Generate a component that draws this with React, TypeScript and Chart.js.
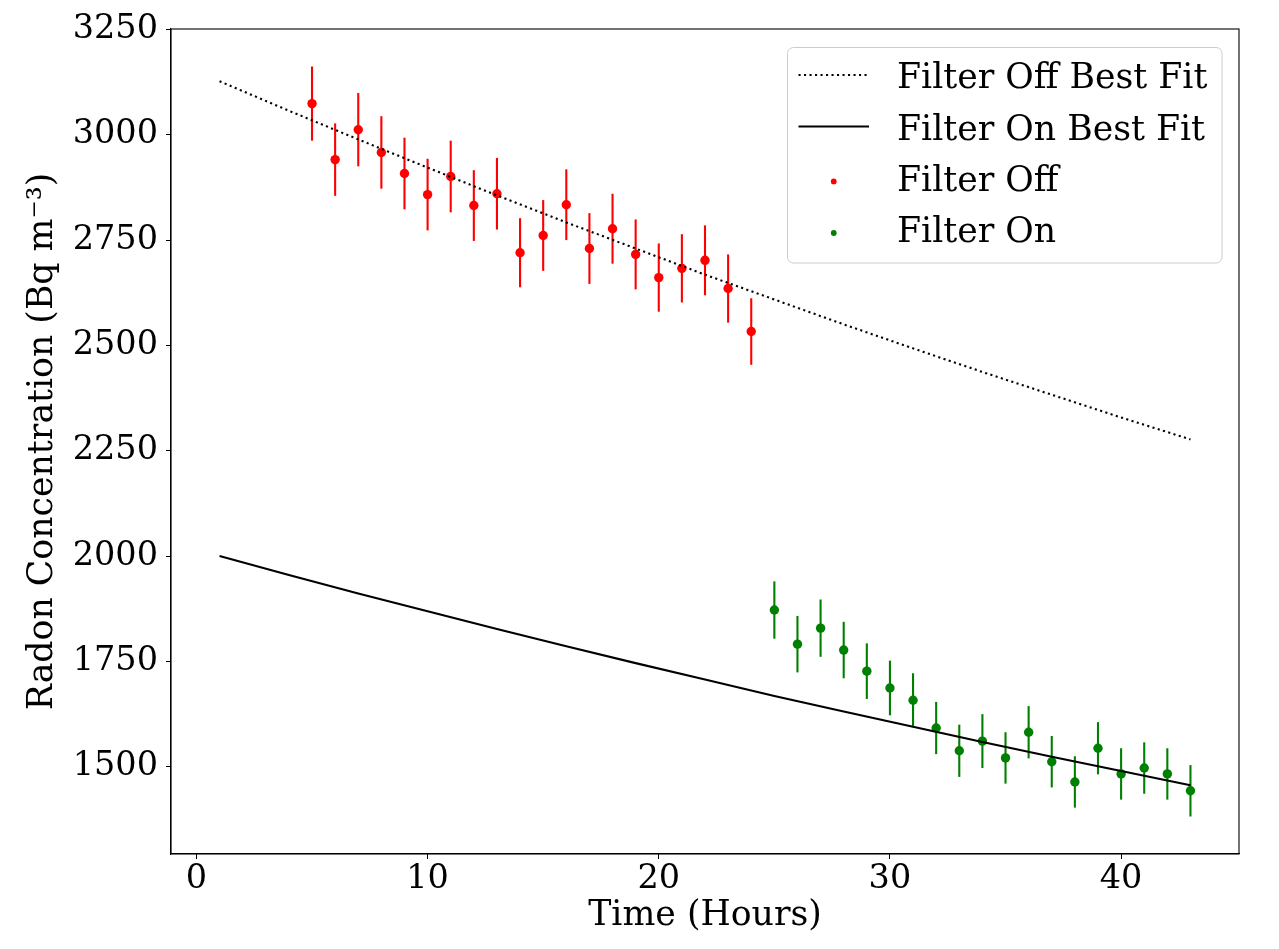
import React, { useEffect, useRef } from 'react';
import { Chart, registerables } from 'chart.js';

Chart.register(...registerables);

// ---- data ----
const hoursOff = [5, 6, 7, 8, 9, 10, 11, 12, 13, 14, 15, 16, 17, 18, 19, 20, 21, 22, 23, 24];
const filterOff = [3074, 2941, 3012, 2958, 2908, 2858, 2901, 2832, 2860, 2720, 2761, 2834, 2730, 2777, 2716, 2661, 2683, 2702, 2635, 2533];
const errOff = [88, 86, 87, 86, 85, 85, 85, 84, 85, 82, 84, 84, 84, 83, 83, 81, 81, 83, 81, 79];

const hoursOn = [25, 26, 27, 28, 29, 30, 31, 32, 33, 34, 35, 36, 37, 38, 39, 40, 41, 42, 43];
const filterOn = [1872, 1791, 1829, 1777, 1727, 1687, 1658, 1592, 1538, 1561, 1521, 1582, 1512, 1464, 1544, 1483, 1497, 1483, 1443];
const errOn = [68, 67, 68, 67, 66, 65, 64, 62, 62, 64, 61, 62, 61, 61, 62, 61, 61, 61, 61];

const fitHours = [1, 4, 7, 10, 13, 16, 19, 22, 25, 28, 31, 34, 37, 40, 43];
const fitOff = [3127, 3057, 2989, 2922, 2856, 2792, 2730, 2668, 2609, 2550, 2493, 2437, 2383, 2329, 2277];
const fitOn = [2000, 1955, 1911, 1869, 1827, 1786, 1746, 1707, 1668, 1631, 1595, 1559, 1524, 1490, 1456];

const xTicks = [0, 10, 20, 30, 40];
const yTicks = [1500, 1750, 2000, 2250, 2500, 2750, 3000, 3250];

const legendLabels = ['Filter Off Best Fit', 'Filter On Best Fit', 'Filter Off', 'Filter On'];

const FONT = "'DejaVu Serif', serif";
const FS = 34.7;
const TICK_FS = 33.5;

const toPoints = (xs: number[], ys: number[]) => xs.map((x, i) => ({ x, y: ys[i] }));

const errorBarPlugin = {
  id: 'errorBars',
  beforeDatasetDraw(chart: any, args: any) {
    const ds = chart.data.datasets[args.index];
    if (!ds.errors) return;
    const ctx = chart.ctx;
    const xs = chart.scales.x;
    const ys = chart.scales.y;
    ctx.save();
    ctx.strokeStyle = ds.backgroundColor;
    ctx.lineWidth = 2.1;
    ds.data.forEach((p: any, i: number) => {
      const e = ds.errors[i];
      const px = xs.getPixelForValue(p.x);
      ctx.beginPath();
      ctx.moveTo(px, ys.getPixelForValue(p.y - e));
      ctx.lineTo(px, ys.getPixelForValue(p.y + e));
      ctx.stroke();
    });
    ctx.restore();
  },
};

const framePlugin = {
  id: 'frame',
  afterDatasetsDraw(chart: any) {
    const { ctx, chartArea } = chart;
    ctx.save();
    ctx.strokeStyle = '#000';
    ctx.lineWidth = 1.1;
    ctx.strokeRect(chartArea.left, chartArea.top, chartArea.right - chartArea.left, chartArea.bottom - chartArea.top);
    ctx.restore();
  },
};

const legendPlugin = {
  id: 'customLegend',
  afterDraw(chart: any) {
    const ctx = chart.ctx;
    ctx.save();
    const x0 = 787.5, y0 = 47.5, w = 434.5, h = 215.5;
    ctx.beginPath();
    (ctx as any).roundRect(x0, y0, w, h, 6);
    ctx.fillStyle = 'rgba(255,255,255,0.8)';
    ctx.fill();
    ctx.strokeStyle = '#cccccc';
    ctx.lineWidth = 1;
    ctx.stroke();
    const baselines = [88.3, 139.6, 190.9, 242.2];
    const hx0 = 798.5, hx1 = 869, tx = 897;
    // dotted handle
    ctx.strokeStyle = '#000';
    ctx.lineWidth = 2.1;
    ctx.setLineDash([2.1, 3.4]);
    ctx.beginPath();
    ctx.moveTo(hx0, baselines[0] - 13.3);
    ctx.lineTo(hx1, baselines[0] - 13.3);
    ctx.stroke();
    ctx.setLineDash([]);
    ctx.beginPath();
    ctx.moveTo(hx0, baselines[1] - 13.1);
    ctx.lineTo(hx1, baselines[1] - 13.1);
    ctx.stroke();
    ctx.fillStyle = '#ff0000';
    ctx.beginPath();
    ctx.arc((hx0 + hx1) / 2, baselines[2] - 9.5, 2.9, 0, Math.PI * 2);
    ctx.fill();
    ctx.fillStyle = '#008000';
    ctx.beginPath();
    ctx.arc((hx0 + hx1) / 2, baselines[3] - 9.2, 2.9, 0, Math.PI * 2);
    ctx.fill();
    ctx.fillStyle = '#000';
    ctx.font = `${FS}px ${FONT}`;
    ctx.textBaseline = 'alphabetic';
    ctx.textAlign = 'left';
    legendLabels.forEach((t, i) => ctx.fillText(t, tx, baselines[i]));
    ctx.restore();
  },
};

export default function App() {
  const ref = useRef<HTMLCanvasElement | null>(null);
  useEffect(() => {
    if (!ref.current) return;
    Chart.defaults.font.family = FONT;
    Chart.defaults.color = '#000';
    const chart = new Chart(ref.current, {
      type: 'scatter',
      data: {
        datasets: [
          {
            label: 'Filter Off Best Fit',
            data: toPoints(fitHours, fitOff),
            showLine: true,
            borderColor: '#000',
            borderWidth: 2.1,
            borderDash: [2.1, 3.4],
            pointRadius: 0,
            fill: false,
          },
          {
            label: 'Filter On Best Fit',
            data: toPoints(fitHours, fitOn),
            showLine: true,
            borderColor: '#000',
            borderWidth: 2.1,
            pointRadius: 0,
            fill: false,
          },
          {
            label: 'Filter Off',
            data: toPoints(hoursOff, filterOff),
            backgroundColor: '#ff0000',
            borderColor: '#ff0000',
            pointRadius: 4.7,
            borderWidth: 0,
            errors: errOff,
          } as any,
          {
            label: 'Filter On',
            data: toPoints(hoursOn, filterOn),
            backgroundColor: '#008000',
            borderColor: '#008000',
            pointRadius: 4.7,
            borderWidth: 0,
            errors: errOn,
          } as any,
        ],
      },
      options: {
        animation: false,
        responsive: false,
        devicePixelRatio: 1,
        layout: { padding: { top: 29, right: 40, left: 0, bottom: 0 } },
        plugins: { legend: { display: false }, tooltip: { enabled: false } },
        scales: {
          x: {
            type: 'linear',
            min: -1.1,
            max: 45.1,
            afterBuildTicks: (axis: any) => {
              axis.ticks = xTicks.map((v) => ({ value: v }));
            },
            afterFit: (axis: any) => {
              axis.height = 95;
            },
            grid: { drawOnChartArea: false, drawTicks: true, tickLength: 5, color: '#000', lineWidth: 1 },
            border: { display: true, color: '#000', width: 1.1 },
            ticks: {
              font: { size: TICK_FS, family: FONT },
              color: '#000',
              padding: 0,
              maxRotation: 0,
              autoSkip: false,
              callback: (v: any) => String(v),
            },
            title: {
              display: true,
              text: 'Time (Hours)',
              font: { size: FS, family: FONT },
              color: '#000',
              padding: { top: 0, bottom: 12 },
            },
          },
          y: {
            type: 'linear',
            min: 1293,
            max: 3251,
            afterBuildTicks: (axis: any) => {
              axis.ticks = yTicks.map((v) => ({ value: v }));
            },
            afterFit: (axis: any) => {
              axis.width = 171;
            },
            grid: { drawOnChartArea: false, drawTicks: true, tickLength: 5, color: '#000', lineWidth: 1 },
            border: { display: true, color: '#000', width: 1.1 },
            ticks: {
              font: { size: TICK_FS, family: FONT },
              color: '#000',
              padding: 8,
              autoSkip: false,
              callback: (v: any) => String(v),
            },
            title: {
              display: true,
              text: 'Radon Concentration (Bq m⁻³)',
              font: { size: FS, family: FONT },
              color: '#000',
              padding: { top: 22, bottom: 0 },
            },
          },
        },
      },
      plugins: [errorBarPlugin, framePlugin, legendPlugin],
    });
    return () => chart.destroy();
  }, []);
  return (
    <div style={{ position: 'absolute', left: 0, top: 0, width: 1279, height: 949, background: '#fff' }}>
      <canvas ref={ref} width={1279} height={949} style={{ width: 1279, height: 949, display: 'block' }} />
    </div>
  );
}
